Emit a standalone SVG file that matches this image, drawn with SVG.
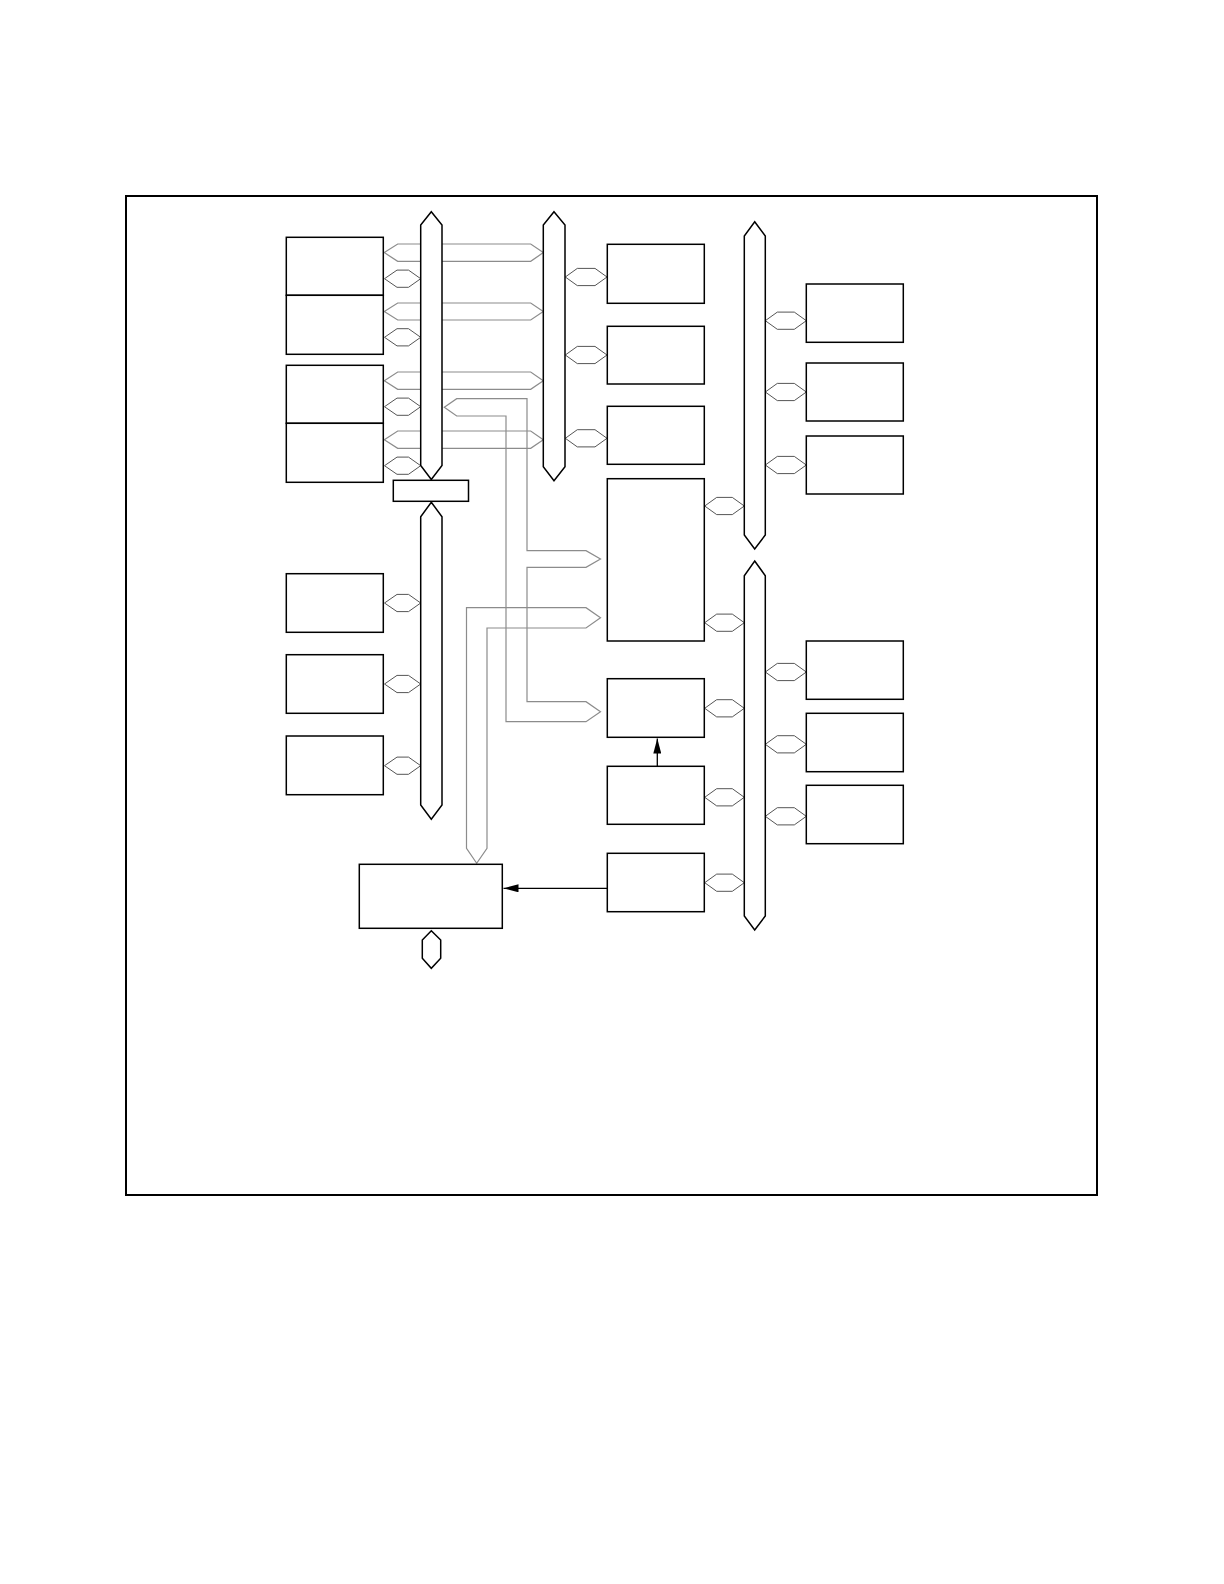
<svg xmlns="http://www.w3.org/2000/svg" width="1224" height="1584" viewBox="0 0 1224 1584">
<style>
.box{fill:#fff;stroke:#000;stroke-width:1.5}
.bus{fill:#fff;stroke:#000;stroke-width:1.5;stroke-linejoin:miter}
.hex{fill:none;stroke:#555;stroke-width:1}
.wide{fill:none;stroke:#8c8c8c;stroke-width:1.2}
.wire{stroke:#000;stroke-width:1.3;fill:none}
</style>
<defs>
<marker id="ah" viewBox="0 0 15 8" refX="15" refY="4" markerWidth="15" markerHeight="8" markerUnits="userSpaceOnUse" orient="auto">
<path d="M0,0 L15,4 L0,8 z" fill="#000"/>
</marker>
</defs>
<rect x="126" y="196" width="971" height="999" fill="none" stroke="#000" stroke-width="2"/>
<g id="connectors">
<polygon class="wide" points="384.3,252.6 397.7,244 530.7,244 543.3,252.6 530.7,261.3 397.7,261.3"/>
<polygon class="wide" points="384.3,311.5 397.7,303 530.7,303 543.3,311.5 530.7,320 397.7,320"/>
<polygon class="wide" points="384.3,380.7 397.7,372 530.7,372 543.3,380.7 530.7,389.3 397.7,389.3"/>
<polygon class="wide" points="384.3,439.7 397.7,431 530.7,431 543.3,439.7 530.7,448.3 397.7,448.3"/>
<polygon class="wide" points="456.7,398.7 527,398.7 527,550.7 586,550.7 600.5,559 586,567.3 527,567.3 527,701.7 586,701.7 600.5,711.7 586,721.7 506,721.7 506,416 456.7,416 444.3,407.3"/>
<polygon class="wide" points="586,607.7 466.5,607.7 466.5,848.3 476.7,863.3 487,848.3 487,628 586,628 600.5,617.8"/>
<g class="hex">
<polygon points="384.5,278.7 397,270.1 408.5,270.1 420.7,278.7 408.5,287.3 397,287.3"/>
<polygon points="384.5,337.3 397,328.7 408.5,328.7 420.7,337.3 408.5,345.9 397,345.9"/>
<polygon points="384.5,406.7 397,398.1 408.5,398.1 420.7,406.7 408.5,415.3 397,415.3"/>
<polygon points="384.5,465.7 397,457.1 408.5,457.1 420.7,465.7 408.5,474.3 397,474.3"/>
<polygon points="384.5,603 397,594.4 408.5,594.4 420.7,603 408.5,611.6 397,611.6"/>
<polygon points="384.5,684 397,675.4 408.5,675.4 420.7,684 408.5,692.6 397,692.6"/>
<polygon points="384.5,765.7 397,757.1 408.5,757.1 420.7,765.7 408.5,774.3 397,774.3"/>
<polygon points="565.3,277 577.3,268.4 595,268.4 607,277 595,285.6 577.3,285.6"/>
<polygon points="565.3,355 577.3,346.4 595,346.4 607,355 595,363.6 577.3,363.6"/>
<polygon points="565.3,438.3 577.3,429.7 595,429.7 607,438.3 595,446.9 577.3,446.9"/>
<polygon points="704.7,506 716.7,497.4 732.3,497.4 744.3,506 732.3,514.6 716.7,514.6"/>
<polygon points="704.7,622.7 716.7,614.1 732.3,614.1 744.3,622.7 732.3,631.3 716.7,631.3"/>
<polygon points="704.7,708.3 716.7,699.7 732.3,699.7 744.3,708.3 732.3,716.9 716.7,716.9"/>
<polygon points="704.7,797.3 716.7,788.7 732.3,788.7 744.3,797.3 732.3,805.9 716.7,805.9"/>
<polygon points="704.7,882.7 716.7,874.1 732.3,874.1 744.3,882.7 732.3,891.3 716.7,891.3"/>
<polygon points="765.3,320.7 777.3,312.1 794.3,312.1 806.3,320.7 794.3,329.3 777.3,329.3"/>
<polygon points="765.3,392 777.3,383.4 794.3,383.4 806.3,392 794.3,400.6 777.3,400.6"/>
<polygon points="765.3,465 777.3,456.4 794.3,456.4 806.3,465 794.3,473.6 777.3,473.6"/>
<polygon points="765.3,672 777.3,663.4 794.3,663.4 806.3,672 794.3,680.6 777.3,680.6"/>
<polygon points="765.3,744.3 777.3,735.7 794.3,735.7 806.3,744.3 794.3,752.9 777.3,752.9"/>
<polygon points="765.3,816.3 777.3,807.7 794.3,807.7 806.3,816.3 794.3,824.9 777.3,824.9"/>
</g>
<polygon class="bus" points="431.3,930.7 440.7,940 440.7,958.3 431.3,968.3 422.3,958.3 422.3,940"/>
<line class="wire" x1="657.3" y1="766.3" x2="657.3" y2="738.5" marker-end="url(#ah)"/>
<line class="wire" x1="607" y1="888.3" x2="503.5" y2="888.3" marker-end="url(#ah)"/>
</g>
<g id="bus1"><polygon class="bus" points="431.3,211.7 442,225 442,465.5 431.3,479.5 420.7,465.5 420.7,225"/></g>
<g id="bus2"><polygon class="bus" points="554,211.7 565,225 565,466.7 554,480.7 543.3,466.7 543.3,225"/></g>
<g id="bus3"><polygon class="bus" points="754.7,221.7 765.3,236 765.3,535 754.7,549 744.3,535 744.3,236"/></g>
<g id="bus4"><polygon class="bus" points="754.7,561 765.3,575.7 765.3,916 754.7,930 744.3,916 744.3,575.7"/></g>
<g id="bus5"><polygon class="bus" points="431.3,502.3 442,516.7 442,805 431.3,819.3 420.7,805 420.7,516.7"/></g>
<g id="bridge"><rect class="box" x="393.3" y="480.3" width="75.2" height="21"/></g>
<g id="L1"><rect class="box" x="286.3" y="237.3" width="97" height="58"/></g>
<g id="L2"><rect class="box" x="286.3" y="295.3" width="97" height="59"/></g>
<g id="L3"><rect class="box" x="286.3" y="365.3" width="97" height="58"/></g>
<g id="L4"><rect class="box" x="286.3" y="423.3" width="97" height="59"/></g>
<g id="L5"><rect class="box" x="286.3" y="573.7" width="97" height="58.6"/></g>
<g id="L6"><rect class="box" x="286.3" y="654.7" width="97" height="58.6"/></g>
<g id="L7"><rect class="box" x="286.3" y="736" width="97" height="58.7"/></g>
<g id="M1"><rect class="box" x="607.3" y="244.3" width="97" height="59"/></g>
<g id="M2"><rect class="box" x="607.3" y="326.3" width="97" height="57.7"/></g>
<g id="M3"><rect class="box" x="607.3" y="406.3" width="97" height="58"/></g>
<g id="M4"><rect class="box" x="607.3" y="478.7" width="97" height="162.3"/></g>
<g id="M5"><rect class="box" x="607.3" y="678.7" width="97" height="58.6"/></g>
<g id="M6"><rect class="box" x="607.3" y="766.3" width="97" height="58"/></g>
<g id="M7"><rect class="box" x="607.3" y="853.3" width="97" height="58.4"/></g>
<g id="R1"><rect class="box" x="806.3" y="284" width="97" height="58.3"/></g>
<g id="R2"><rect class="box" x="806.3" y="363" width="97" height="58"/></g>
<g id="R3"><rect class="box" x="806.3" y="436" width="97" height="58"/></g>
<g id="R4"><rect class="box" x="806.3" y="641" width="97" height="58.3"/></g>
<g id="R5"><rect class="box" x="806.3" y="713.3" width="97" height="58.4"/></g>
<g id="R6"><rect class="box" x="806.3" y="785.3" width="97" height="58.4"/></g>
<g id="B1"><rect class="box" x="359.3" y="864.3" width="143" height="64"/></g>
</svg>
